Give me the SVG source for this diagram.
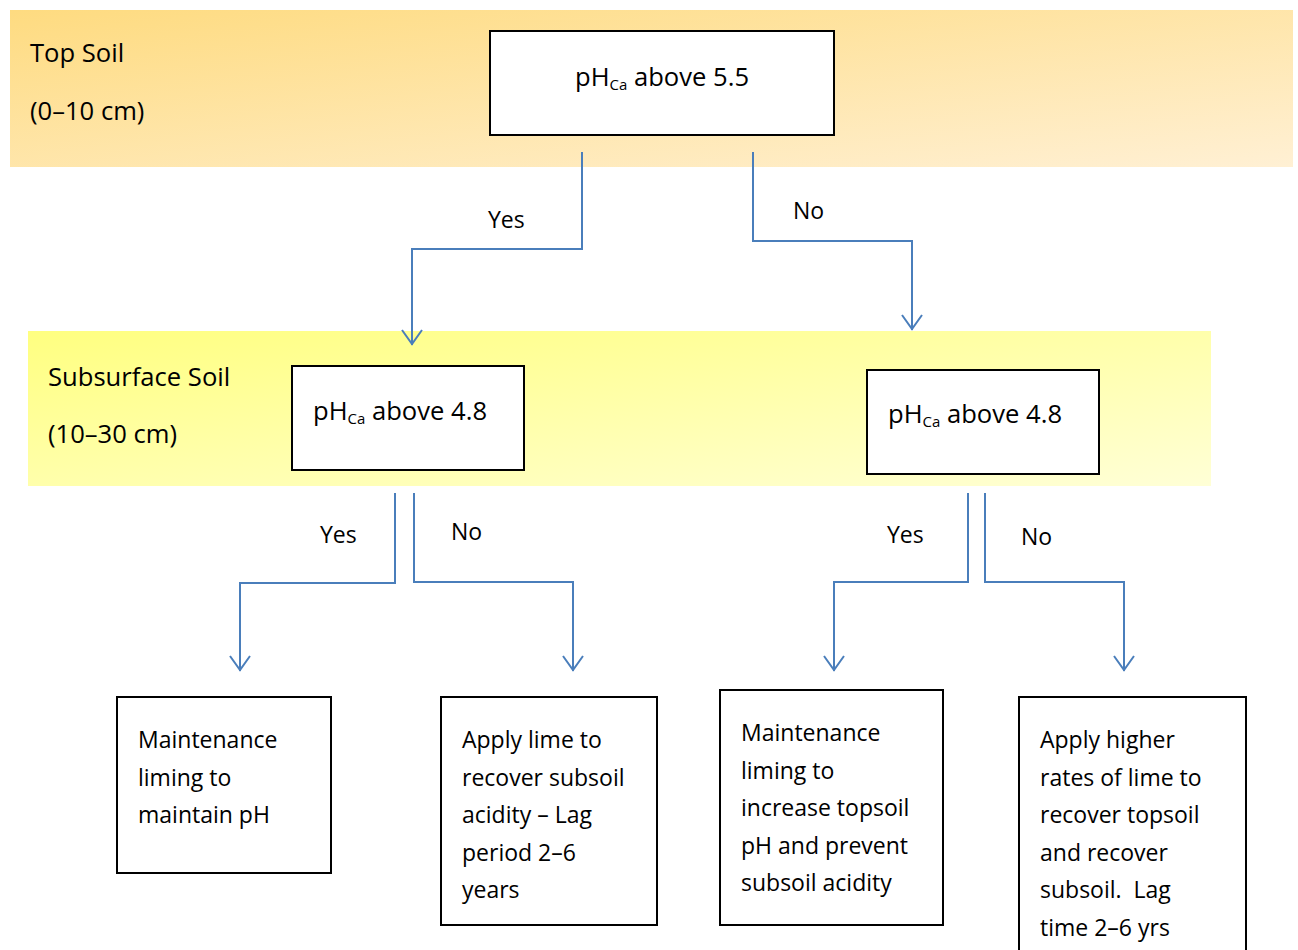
<svg xmlns="http://www.w3.org/2000/svg" width="1298" height="950" viewBox="0 0 1298 950">
<style>
text{font-family:"Open Sans","Liberation Sans",sans-serif;font-size:23px;fill:#000}
.big{font-size:25.6px}
.box{fill:#fff;stroke:#000;stroke-width:2}
.con{fill:none;stroke:#4a7ebb;stroke-width:2}
.sub{font-size:15px}
</style>
<defs>
<linearGradient id="gTop" x1="0" y1="0" x2="1" y2="1" gradientUnits="objectBoundingBox">
<stop offset="0" stop-color="#fedb80"/>
<stop offset="1" stop-color="#fff0d4"/>
</linearGradient>
<linearGradient id="gSub" x1="0" y1="0" x2="1" y2="1">
<stop offset="0" stop-color="#ffff80"/>
<stop offset="1" stop-color="#ffffd6"/>
</linearGradient>
<marker id="arr" markerWidth="24" markerHeight="24" refX="21" refY="12" orient="auto" markerUnits="userSpaceOnUse" viewBox="0 0 24 24">
<path d="M6,2 L20,12 L6,22" fill="none" stroke="#4a7ebb" stroke-width="2"/>
</marker>
</defs>
<rect width="1298" height="950" fill="#fff"/>
<g id="band-top">
<rect x="10" y="10" width="1283" height="157" fill="url(#gTop)"/>
<text class="big" x="30" y="62">Top Soil</text>
<text class="big" x="30" y="120">(0–10 cm)</text>
</g>
<g id="band-sub">
<rect x="28" y="331" width="1183" height="155" fill="url(#gSub)"/>
<text class="big" x="48" y="386">Subsurface Soil</text>
<text class="big" x="48" y="443">(10–30 cm)</text>
</g>
<g id="connectors">
<path class="con" d="M582,152 V249 H412 V345" marker-end="url(#arr)"/>
<path class="con" d="M753,152 V241 H912 V330" marker-end="url(#arr)"/>
<path class="con" d="M395,493 V583 H240 V671" marker-end="url(#arr)"/>
<path class="con" d="M414,493 V582 H573 V671" marker-end="url(#arr)"/>
<path class="con" d="M968,493 V582 H834 V671" marker-end="url(#arr)"/>
<path class="con" d="M985,493 V582 H1124 V671" marker-end="url(#arr)"/>
<text x="488" y="228">Yes</text>
<text x="793" y="219">No</text>
<text x="320" y="543">Yes</text>
<text x="451" y="540">No</text>
<text x="887" y="543">Yes</text>
<text x="1021" y="545">No</text>
</g>
<g id="n-top">
<rect class="box" x="490" y="31" width="344" height="104"/>
<text class="big" x="575" y="86">pH<tspan class="sub" dy="4">Ca</tspan><tspan dy="-4"> above 5.5</tspan></text>
</g>
<g id="n-subL">
<rect class="box" x="292" y="366" width="232" height="104"/>
<text class="big" x="313" y="420">pH<tspan class="sub" dy="4">Ca</tspan><tspan dy="-4"> above 4.8</tspan></text>
</g>
<g id="n-subR">
<rect class="box" x="867" y="370" width="232" height="104"/>
<text class="big" x="888" y="423">pH<tspan class="sub" dy="4">Ca</tspan><tspan dy="-4"> above 4.8</tspan></text>
</g>
<g id="n-b1">
<rect class="box" x="117" y="697" width="214" height="176"/>
<text x="138" y="748">Maintenance</text>
<text x="138" y="786">liming to</text>
<text x="138" y="823">maintain pH</text>
</g>
<g id="n-b2">
<rect class="box" x="441" y="697" width="216" height="228"/>
<text x="462" y="748">Apply lime to</text>
<text x="462" y="786">recover subsoil</text>
<text x="462" y="823">acidity – Lag</text>
<text x="462" y="861">period 2–6</text>
<text x="462" y="898">years</text>
</g>
<g id="n-b3">
<rect class="box" x="720" y="690" width="223" height="235"/>
<text x="741" y="741">Maintenance</text>
<text x="741" y="779">liming to</text>
<text x="741" y="816">increase topsoil</text>
<text x="741" y="854">pH and prevent</text>
<text x="741" y="891">subsoil acidity</text>
</g>
<g id="n-b4">
<rect class="box" x="1019" y="697" width="227" height="270"/>
<text x="1040" y="748">Apply higher</text>
<text x="1040" y="786">rates of lime to</text>
<text x="1040" y="823">recover topsoil</text>
<text x="1040" y="861">and recover</text>
<text x="1040" y="898" xml:space="preserve">subsoil.  Lag</text>
<text x="1040" y="936">time 2–6 yrs</text>
</g>
</svg>
